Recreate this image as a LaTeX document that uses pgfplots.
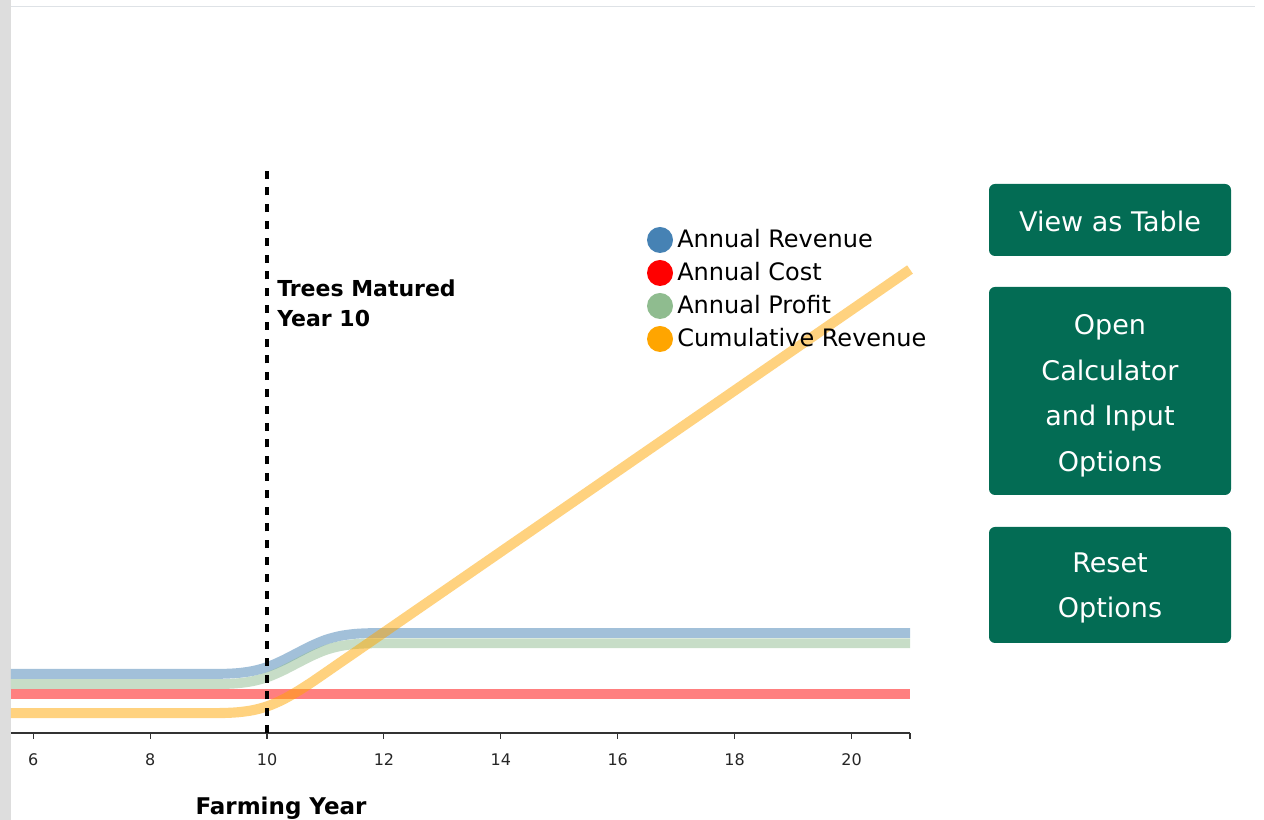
\documentclass[border=0pt]{standalone}
\usepackage{fontspec}
\setmainfont{DejaVu Sans}
\usepackage{pgfplots}
\usepackage{pgfplotstable}
\pgfplotsset{compat=1.18}

\definecolor{revblue}{HTML}{4682B4}
\definecolor{costred}{HTML}{FF0000}
\definecolor{profgreen}{HTML}{8FBC8F}
\definecolor{cumorange}{HTML}{FFA500}
\definecolor{btngreen}{RGB}{3,108,84}
\definecolor{rulegray}{HTML}{DEE2E6}
\definecolor{sidegray}{HTML}{DDDDDD}
\definecolor{axisgray}{HTML}{333333}

% Yearly series (values in thousands), quarter-year detail around maturity
\pgfplotstableread{
year  revenue profit
5.62  10.40   8.60
6     10.40   8.60
7     10.40   8.60
8     10.40   8.60
9     10.40   8.60
9.25  10.42   8.62
9.5   10.55   8.75
9.75  10.91   9.11
10    11.60   9.80
10.25 12.69  10.89
10.5  14.00  12.20
10.75 15.31  13.51
11    16.40  14.60
11.25 17.09  15.29
11.5  17.45  15.65
11.75 17.58  15.78
12    17.60  15.80
13    17.60  15.80
14    17.60  15.80
15    17.60  15.80
16    17.60  15.80
17    17.60  15.80
18    17.60  15.80
19    17.60  15.80
20    17.60  15.80
21    17.60  15.80
}\annualdata

\pgfplotstableread{
year  cost
5.62  6.90
21    6.90
}\costdata

\pgfplotstableread{
year  cumulative
5.62  3.50
6     3.50
7     3.50
8     3.50
9     3.50
9.25  3.52
9.5   3.65
9.75  4.00
10    4.68
10.25 5.77
10.5  7.20
10.75 8.84
11    10.60
11.25 12.38
11.5  14.15
11.75 15.93
12    17.70
13    24.80
14    31.90
15    39.00
16    46.10
17    53.20
18    60.30
19    67.40
20    74.50
21    81.60
}\cumdata

\begin{document}
\begin{tikzpicture}[x=0.75pt,y=0.75pt]
\path[use as bounding box] (0,0) rectangle (1264,820);
% page frame
\fill[sidegray] (0,0) rectangle (11,820);
\draw[rulegray, line width=1.2pt] (11,813.5) -- (1255,813.5);

\begin{axis}[
  at={(8.25pt,65.25pt)}, anchor=south west,
  scale only axis, width=674.25pt, height=426pt,
  xmin=5.62, xmax=21, ymin=0, ymax=100,
  clip=false,
  axis x line*=bottom, axis y line=none,
  axis line style={axisgray, line width=0.8pt, -},
  xtick={6,8,...,20},
  extra x ticks={21}, extra x tick labels={},
  tick align=outside, major tick length=4.5pt,
  xtick style={axisgray, line width=0.8pt},
  /pgf/number format/assume math mode=true,
  xticklabel style={font=\fontsize{12}{14}\selectfont, text=black!85, anchor=base, yshift=-20.25pt},
]
\addplot[revblue, opacity=0.5, line width=7.4pt, smooth, tension=0.5] table[x=year, y=revenue] {\annualdata};
\addplot[costred, opacity=0.5, line width=7.4pt] table[x=year, y=cost] {\costdata};
\addplot[profgreen, opacity=0.5, line width=7.4pt, smooth, tension=0.5] table[x=year, y=profit] {\annualdata};
\addplot[cumorange, opacity=0.5, line width=7.6pt, smooth, tension=0.5] table[x=year, y=cumulative] {\cumdata};
% maturity marker
\draw[black, line width=2.4pt, dash pattern=on 6pt off 6.6pt] (axis cs:10,0) -- (axis cs:10,100);
\end{axis}

% maturity annotation
\node[anchor=base west, inner sep=0, font=\fontsize{16.5}{19}\selectfont\bfseries] at (277,523) {Trees Matured};
\node[anchor=base west, inner sep=0, font=\fontsize{16.5}{19}\selectfont\bfseries] at (277,493) {Year 10};

% axis title
\node[anchor=base, inner sep=0, font=\fontsize{17.25}{20}\selectfont\bfseries] at (281,5) {Farming Year};

% legend
\fill[revblue]    (660,580) circle[radius=13];
\fill[costred]    (660,547) circle[radius=13];
\fill[profgreen]  (660,514) circle[radius=13];
\fill[cumorange]  (660,481) circle[radius=13];
\begin{scope}[every node/.style={anchor=base west, inner sep=0, font=\fontsize{18}{21}\selectfont}]
\node at (677,572) {Annual Revenue};
\node at (677,539) {Annual Cost};
\node at (677,506) {Annual Profit};
\node at (677,473) {Cumulative Revenue};
\end{scope}

% buttons
\fill[btngreen, rounded corners=4.5pt] (989,564) rectangle (1231,636);
\fill[btngreen, rounded corners=4.5pt] (989,325) rectangle (1231,533);
\fill[btngreen, rounded corners=4.5pt] (989,177) rectangle (1231,293);
\begin{scope}[every node/.style={anchor=base, inner sep=0, text=white, font=\fontsize{20.25}{24}\selectfont}]
\node at (1110,588.5) {View as Table};
\node at (1110,485) {Open};
\node at (1110,439.5) {Calculator};
\node at (1110,394) {and Input};
\node at (1110,348.5) {Options};
\node at (1110,247) {Reset};
\node at (1110,202) {Options};
\end{scope}
\end{tikzpicture}
\end{document}
